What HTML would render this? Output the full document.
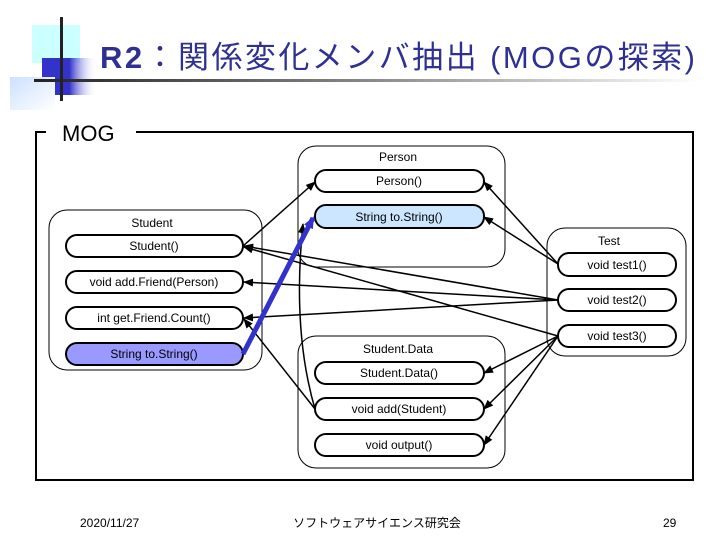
<!DOCTYPE html>
<html><head><meta charset="utf-8"><style>
body{margin:0;background:#fff;width:720px;height:540px;overflow:hidden}
svg{display:block}
text{font-family:"Liberation Sans","Noto Sans CJK JP",sans-serif}
</style></head><body>
<svg width="720" height="540" viewBox="0 0 720 540">
<defs>
<linearGradient id="hl" x1="0" x2="1"><stop offset="0" stop-color="#222"/><stop offset="0.5" stop-color="#888"/><stop offset="1" stop-color="#fff"/></linearGradient>
<linearGradient id="bs" x1="0" x2="1"><stop offset="0.5" stop-color="#3333cc"/><stop offset="1" stop-color="#fff" stop-opacity="0"/></linearGradient>
<linearGradient id="lb" x1="0" y1="0" x2="1" y2="1"><stop offset="0" stop-color="#cce0ff"/><stop offset="1" stop-color="#fff"/></linearGradient>
<marker id="a" markerWidth="10" markerHeight="8" refX="9" refY="4" orient="auto" markerUnits="userSpaceOnUse"><path d="M0,0 L10,4 L0,8 Z" fill="#000"/></marker>
<marker id="ab" markerWidth="12" markerHeight="10" refX="10" refY="5" orient="auto" markerUnits="userSpaceOnUse"><path d="M0,0 L12,5 L0,10 Z" fill="#3333cc"/></marker>
</defs>
<rect x="32" y="25" width="48" height="38" fill="#ccffff"/>
<rect x="42" y="58" width="55" height="37" fill="url(#bs)"/>
<rect x="10" y="77" width="45" height="33" fill="url(#lb)"/>
<rect x="34" y="79" width="666" height="3" fill="url(#hl)"/>
<rect x="60" y="17" width="3" height="84" fill="#222"/>
<text x="100" y="68" font-size="31" fill="#2e3192" textLength="595" lengthAdjust="spacing"><tspan font-weight="bold">R2</tspan>：関係変化メンバ抽出 (MOGの探索)</text>

<path d="M46,132 H36 V480 H693 V132 H136" fill="none" stroke="#000" stroke-width="2"/>
<text x="62" y="141" font-size="22">MOG</text>

<g fill="none" stroke="#000" stroke-width="1">
<rect x="298" y="146" width="207" height="121" rx="18"/>
<rect x="49" y="210" width="213" height="160" rx="18"/>
<rect x="547" y="228" width="139" height="128" rx="18"/>
<rect x="298" y="336" width="207" height="132" rx="18"/>
</g>
<g font-size="12" text-anchor="middle">
<text x="398" y="161">Person</text>
<text x="152" y="227">Student</text>
<text x="609" y="245">Test</text>
<text x="398" y="353">Student.Data</text>
</g>
<g stroke="#000" stroke-width="2">
<rect x="315" y="170" width="169" height="22" rx="11" fill="#fff"/>
<rect x="315" y="205" width="169" height="23" rx="11" fill="#cce6ff"/>
<rect x="66" y="235" width="177" height="22" rx="11" fill="#fff"/>
<rect x="66" y="271" width="177" height="22" rx="11" fill="#fff"/>
<rect x="66" y="307" width="177" height="22" rx="11" fill="#fff"/>
<rect x="66" y="343" width="177" height="22" rx="11" fill="#9999ff"/>
<rect x="558" y="253" width="118" height="23" rx="11" fill="#fff"/>
<rect x="558" y="289" width="118" height="22" rx="11" fill="#fff"/>
<rect x="558" y="325" width="118" height="22" rx="11" fill="#fff"/>
<rect x="315" y="362" width="169" height="22" rx="11" fill="#fff"/>
<rect x="315" y="398" width="169" height="22" rx="11" fill="#fff"/>
<rect x="315" y="434" width="169" height="22" rx="11" fill="#fff"/>
</g>
<g font-size="12" text-anchor="middle">
<text x="399" y="185">Person()</text>
<text x="399" y="221">String to.String()</text>
<text x="154" y="250">Student()</text>
<text x="154" y="286">void add.Friend(Person)</text>
<text x="154" y="322">int get.Friend.Count()</text>
<text x="154" y="358">String to.String()</text>
<text x="617" y="269">void test1()</text>
<text x="617" y="304">void test2()</text>
<text x="617" y="340">void test3()</text>
<text x="399" y="377">Student.Data()</text>
<text x="399" y="413">void add(Student)</text>
<text x="399" y="449">void output()</text>
</g>
<g stroke="#000" stroke-width="1.5" fill="none">
<line x1="243" y1="246" x2="315" y2="182" marker-end="url(#a)"/>
<line x1="558" y1="264" x2="484" y2="182" marker-end="url(#a)"/>
<line x1="558" y1="264" x2="484" y2="217" marker-end="url(#a)"/>
<line x1="558" y1="300" x2="244" y2="246" marker-end="url(#a)"/>
<line x1="558" y1="336" x2="244" y2="247" marker-end="url(#a)"/>
<line x1="558" y1="300" x2="244" y2="282" marker-end="url(#a)"/>
<line x1="558" y1="300" x2="244" y2="318" marker-end="url(#a)"/>
<line x1="315" y1="409" x2="244" y2="319" marker-end="url(#a)"/>
<path d="M315,409 Q292,330 303,224" marker-end="url(#a)"/>
<line x1="558" y1="336" x2="484" y2="373" marker-end="url(#a)"/>
<line x1="558" y1="336" x2="484" y2="409" marker-end="url(#a)"/>
<line x1="558" y1="336" x2="484" y2="445" marker-end="url(#a)"/>
</g>
<line x1="243" y1="354" x2="313" y2="218" stroke="#3333cc" stroke-width="5" marker-end="url(#ab)"/>

<g font-size="12">
<text x="80" y="527">2020/11/27</text>
<text x="377" y="527" text-anchor="middle">ソフトウェアサイエンス研究会</text>
<text x="663" y="527">29</text>
</g>
</svg>
</body></html>
